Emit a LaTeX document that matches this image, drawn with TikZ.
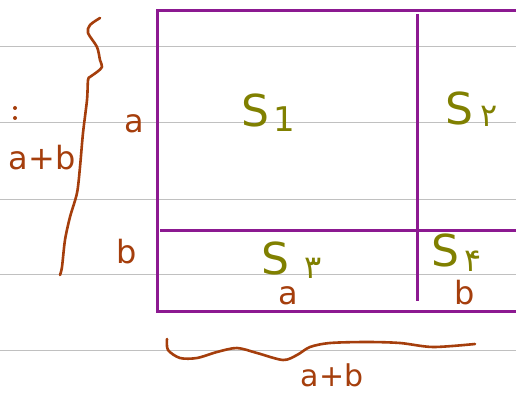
\documentclass[tikz,border=0pt]{standalone}
\usepackage{fontspec}
\setmainfont{DejaVu Sans}
\newfontfamily\fadigits[Script=Arabic]{DejaVu Sans}
\TeXXeTstate=1
\definecolor{ruleg}{RGB}{192,192,192}
\definecolor{purp}{RGB}{140,25,145}
\definecolor{brn}{RGB}{165,62,12}
\definecolor{olv}{RGB}{128,128,0}
\tikzset{
  ruling/.style={draw=ruleg, line width=1pt},
  box/.style={draw=purp, line width=3pt},
  ink/.style={draw=brn, line width=2.6pt, line cap=round, line join=round},
  slbl/.style={text=olv, font=\fontsize{44}{44}\selectfont, inner sep=0pt, text depth=0pt},
  sidx/.style={text=olv, font=\fontsize{34}{34}\selectfont, inner sep=0pt},
  fidx/.style={text=olv, font=\fadigits\fontsize{32}{32}\selectfont, inner sep=0pt},
  blbl/.style={text=brn, font=\fontsize{32}{32}\selectfont, inner sep=0pt},
}
\begin{document}
\begin{tikzpicture}[x=1pt,y=-1pt]
\useasboundingbox (0,0) rectangle (516,398);
\fill[white] (0,0) rectangle (516,398);
\clip (0,0) rectangle (516,398);
% ruled lines
\foreach \yy in {47,123,199,274,350} \draw[ruling] (0,\yy) -- (516,\yy);
% square
\draw[box] (530,11) -- (157,11) -- (157,311) -- (530,311);
\draw[box] (417,14) -- (417,301);
\draw[box] (160,230) -- (530,230);
% area labels
\node[slbl] (s1) at (255,110) {S};
\node[sidx] (i1) at (284,119) {1};
\node[slbl] (s2) at (459,108) {S};
\node[fidx] (i2) at (489,116) {\beginR ۲\endR};
\node[slbl] (s3) at (275,258) {S};
\node[fidx] (i3) at (313,268) {\beginR ۳\endR};
\node[slbl] (s4) at (445,250) {S};
\node[fidx] (i4) at (473,261) {\beginR ۴\endR};
% side labels
\node[blbl] (la) at (134,124) {a};
\node[blbl] (lb) at (127,252) {b};
\node[blbl, text height=0.55em, text depth=0pt] (ba) at (288,302) {a};
\node[blbl] (bb) at (465,293) {b};
\node[blbl] (lab) at (42,158) {a+b};
\node[blbl, font=\fontsize{30}{30}\selectfont] (bab) at (332,375) {a+b};
\fill[brn] (15,108) circle (2pt) (15,118) circle (2pt);
% braces
\draw[ink] plot[smooth] coordinates {(100,18) (90,25) (88,33) (97,47) (100,60) (102,67) (97,72) (90,77) (88,80) (87,100) (83,133) (80,167) (77,193) (70,217) (65,240) (62,267) (60,275)};
\draw[ink] plot[smooth] coordinates {(167,339) (168,350) (180,358) (197,358) (217,352) (237,348) (257,353) (283,360) (297,355) (310,347) (330,343) (367,342) (400,343) (433,347) (475,344)};
\end{tikzpicture}
\end{document}
